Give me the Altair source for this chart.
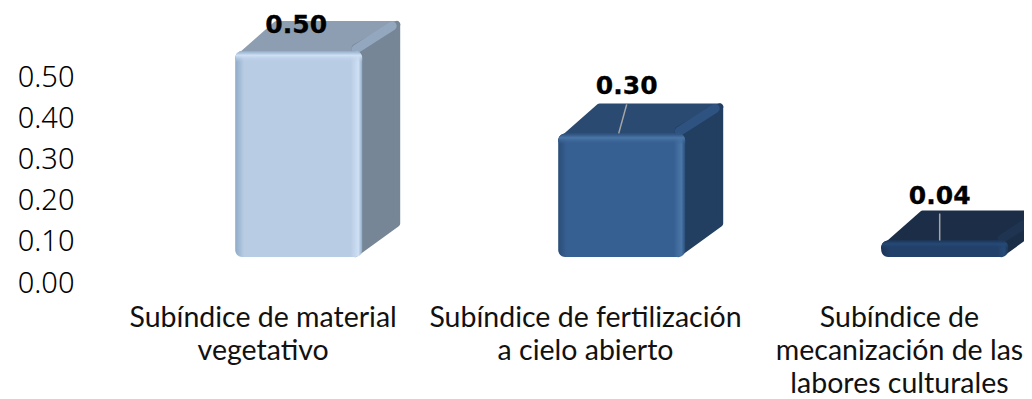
import altair as alt
import pandas as pd

categories = ["Subíndice de material\nvegetativo",
              "Subíndice de fertilización\na cielo abierto",
              "Subíndice de\nmecanización de las\nlabores culturales"]
values = [0.50, 0.30, 0.04]
labels = ["0.50", "0.30", "0.04"]
ticks = [0.0, 0.1, 0.2, 0.3, 0.4, 0.5]

front_colors = ["#b8cce4", "#376092", "#21406a"]
edge_dark = ["#8fabc9", "#2a4d78", "#1c3558"]
edge_light = ["#cfe0f4", "#4a76a8", "#264a76"]
top_colors = ["#8e9eb2", "#2a4a72", "#1c2e47"]
side_colors = ["#768697", "#223f61", "#1b2e48"]
band_colors = ["#93a7bf", "#2f5380", "#1e3450"]

PX_X = 323.0
PX_Y = 412.0
W, H = 1016, 391
y0_px = 275.0
xs = alt.Scale(domain=[0, W / PX_X], nice=False, zero=False)
ys = alt.Scale(domain=[-(H - y0_px) / PX_Y, y0_px / PX_Y], nice=False, zero=False)

y_axis = alt.Axis(values=ticks, format=".2f", domain=False, ticks=False, grid=False, title=None,
                  labelFont="Noto Sans", labelFontSize=29, labelColor="#000000", labelFontWeight=300,
                  labelPadding=0, offset=-66)

base_off = 26 / PX_Y
hw = 63.5 / PX_X
dx = 38 / PX_X
dy = 30 / PX_Y
r = 3.5
rx = r / PX_X
ry = r / PX_Y
centers = [0.9 + i for i in range(3)]
text_centers = [0.79, 1.788, 2.76]
label_x_shift = [-2.5 / PX_X, 5 / PX_X, -5 / PX_X]
label_y_shift = [25.8 / PX_Y, 47 / PX_Y, 45 / PX_Y]
lead = [None,
        (5 / PX_X, -3 / PX_X, 29 / PX_Y),
        (-5 / PX_X, -5 / PX_X, 27 / PX_Y)]

X = lambda f="x": alt.X(f"{f}:Q", scale=xs, axis=None)
Y = lambda f="y": alt.Y(f"{f}:Q", scale=ys, axis=y_axis)

layers = []
for i, v in enumerate(values):
    c = centers[i]
    x0, x1 = c - hw, c + hw
    bot = base_off
    top = v + base_off

    # top face
    d = pd.DataFrame({"y": [top - 2 * ry, top + dy - ry],
                      "x": [x0 + rx, x0 + dx + rx],
                      "x2": [x1 - rx, x1 + dx - rx]})
    layers.append(alt.Chart(d).mark_area(orient="horizontal", color=top_colors[i], stroke=top_colors[i],
                                         strokeWidth=2 * r, strokeJoin="round").encode(
        y=Y(), x=X(), x2="x2:Q"))
    # side face
    d = pd.DataFrame({"x": [x1 - 2 * rx, x1 + dx - rx],
                      "y": [top + ry, top + dy - ry],
                      "y2": [bot + ry, bot + dy + ry]})
    layers.append(alt.Chart(d).mark_area(color=side_colors[i], stroke=side_colors[i],
                                         strokeWidth=2 * r, strokeJoin="round").encode(
        x=X(), y=Y(), y2="y2:Q"))
    # bevel between top and side
    d = pd.DataFrame({"x": [x1 - 6 / PX_X], "x2": [x1 + dx - 8 / PX_X],
                      "y": [top + 2 / PX_Y], "y2": [top + dy - 5 / PX_Y]})
    layers.append(alt.Chart(d).mark_rule(color=band_colors[i], strokeWidth=9, strokeCap="round").encode(
        x=X(), x2="x2:Q", y=Y(), y2="y2:Q"))

    # front face with horizontal then vertical bevel
    d = pd.DataFrame({"x": [x0], "x2": [x1], "y": [top], "y2": [bot]})
    hgrad = alt.LinearGradient(gradient="linear", x1=0, x2=1, y1=0, y2=0, stops=[
        alt.GradientStop(offset=0, color=edge_dark[i]),
        alt.GradientStop(offset=0.07, color=front_colors[i]),
        alt.GradientStop(offset=0.91, color=front_colors[i]),
        alt.GradientStop(offset=0.97, color=edge_light[i]),
        alt.GradientStop(offset=1, color=edge_dark[i])])
    layers.append(alt.Chart(d).mark_rect(fill=hgrad, cornerRadius=7).encode(
        x=X(), x2="x2:Q", y=Y(), y2="y2:Q"))
    f = min(0.5, 11 / (v * PX_Y))
    vgrad = alt.LinearGradient(gradient="linear", x1=0, x2=0, y1=0, y2=1, stops=[
        alt.GradientStop(offset=0, color=edge_dark[i]),
        alt.GradientStop(offset=f * 0.4, color=edge_light[i]),
        alt.GradientStop(offset=f, color=front_colors[i] + "00"),
        alt.GradientStop(offset=1, color=front_colors[i] + "00")])
    layers.append(alt.Chart(d).mark_rect(fill=vgrad, cornerRadius=7).encode(
        x=X(), x2="x2:Q", y=Y(), y2="y2:Q"))

    # leader line
    if lead[i]:
        sx, lx, up = lead[i]
        d = pd.DataFrame({"x": [c + sx], "x2": [c + lx], "y": [top + up], "y2": [top]})
        layers.append(alt.Chart(d).mark_rule(color="#a6a6a6", strokeWidth=1.5).encode(
            x=X(), x2="x2:Q", y=Y(), y2="y2:Q"))

# data labels
d = pd.DataFrame({"x": [centers[i] + label_x_shift[i] for i in range(3)],
                  "y": [values[i] + base_off + label_y_shift[i] for i in range(3)],
                  "t": labels})
layers.append(alt.Chart(d).mark_text(font="DejaVu Sans", fontWeight="bold", fontSize=25, color="#000000",
                                     stroke="#000000", strokeWidth=0.3,
                                     align="center", baseline="middle").encode(x=X(), y=Y(), text="t:N"))
# category labels
d = pd.DataFrame({"x": text_centers, "y": [(283 - 304) / PX_Y] * 3, "t": categories})
layers.append(alt.Chart(d).mark_text(font="Lato", fontSize=28.5, color="#111111", align="center",
                                     baseline="top", lineBreak="\n", lineHeight=33).encode(
    x=X(), y=Y(), text="t:N"))

chart = alt.layer(*layers).properties(
    width=W, height=H, padding=0, autosize=alt.AutoSizeParams(type="none"),
).configure_view(stroke=None)
chart.save("out.html", embed_options={"renderer": "svg", "actions": False})
